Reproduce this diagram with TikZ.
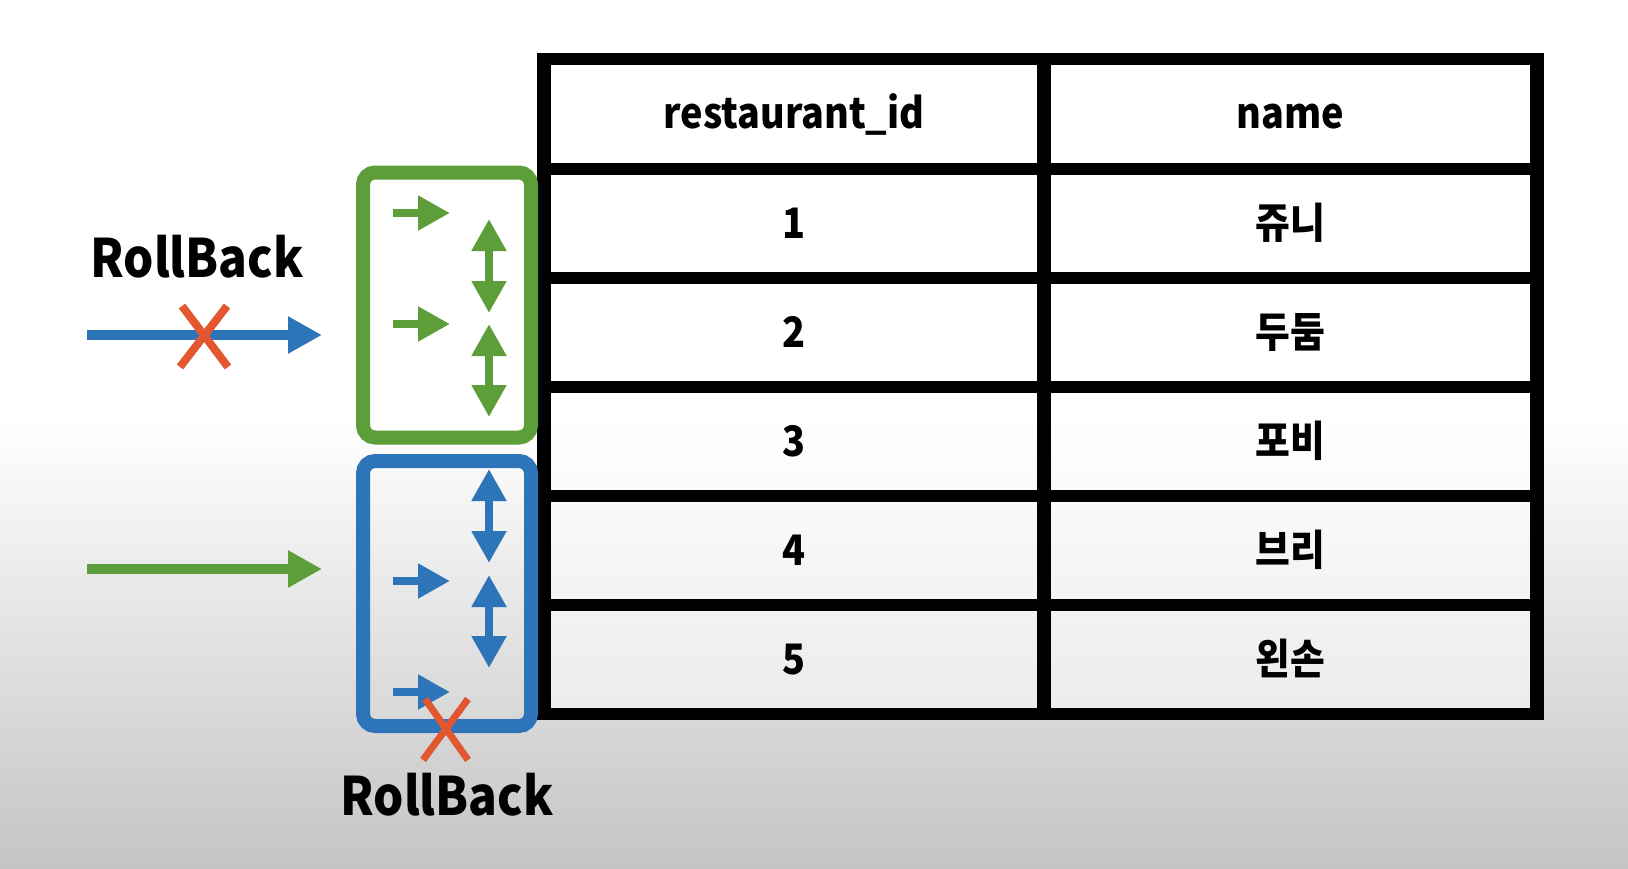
\documentclass[tikz,border=0pt]{standalone}
\usepackage{fontspec}
\setmainfont{Noto Sans CJK KR}[FakeStretch=0.9]
\usetikzlibrary{arrows.meta}
\definecolor{gcol}{RGB}{93,158,58}
\definecolor{bcol}{RGB}{46,116,184}
\definecolor{xred}{RGB}{226,87,48}
\definecolor{bgbot}{RGB}{196,196,196}
\begin{document}
\begin{tikzpicture}[x=1pt,y=-1pt,
  tabtxt/.style={inner sep=0pt,anchor=base,font=\fontsize{42}{50}\selectfont\bfseries},
  rbtxt/.style={inner sep=0pt,anchor=base,font=\fontsize{53}{60}\selectfont\bfseries},
  frame/.style={line width=14pt,rounded corners=12pt,minimum width=168pt,minimum height=265pt,inner sep=0pt},
  smallarr/.style={line width=8.5pt,-{Triangle[width=33pt,length=32pt]}},
  dblarr/.style={line width=8.5pt,{Triangle[width=33pt,length=32pt]}-{Triangle[width=33pt,length=32pt]}},
  bigarr/.style={line width=10pt,-{Triangle[width=35pt,length=34pt]}},
  xline/.style={draw=xred,line width=8pt},
  hline/.style={line width=12pt},
  vline/.style={line width=14pt}]
\useasboundingbox (0,0) rectangle (1628,868);
\fill[white] (0,0) rectangle (1628,421);
\shade[top color=white,bottom color=bgbot] (0,420) rectangle (1628,868);

% table
\fill[white,opacity=0.5] (544,59) rectangle (1537,714);
\foreach \yy in {59,168.5,277.5,386.5,495.5,604.5,713.5}
  \draw[hline] (537,\yy) -- (1544,\yy);
\foreach \xx in {544,1044,1537}
  \draw[vline] (\xx,53) -- (\xx,720);

\node[tabtxt] (h1) at (794,128.5) {restaurant\_id};
\node[tabtxt] (h2) at (1290,128.5) {name};
\node[tabtxt] (id1) at (794,238) {1};
\node[tabtxt] (id2) at (794,347) {2};
\node[tabtxt] (id3) at (794,456) {3};
\node[tabtxt] (id4) at (794,565) {4};
\node[tabtxt] (id5) at (794,674) {5};
\node[tabtxt] (n1) at (1290,238) {쥬니};
\node[tabtxt] (n2) at (1290,347) {두둠};
\node[tabtxt] (n3) at (1290,456) {포비};
\node[tabtxt] (n4) at (1290,565) {브리};
\node[tabtxt] (n5) at (1290,674) {왼손};

% frames
\node[frame,draw=gcol] (gframe) at (447,305) {};
\node[frame,draw=bcol] (bframe) at (447,593.5) {};

% green frame arrows
\coordinate (ga1s) at (393,213); \coordinate (ga1e) at (450,213);
\coordinate (ga2s) at (393,324); \coordinate (ga2e) at (450,324);
\coordinate (gv1a) at (489,219); \coordinate (gv1b) at (489,313);
\coordinate (gv2a) at (489,324); \coordinate (gv2b) at (489,417);
\draw[smallarr,gcol] (ga1s) -- (ga1e);
\draw[smallarr,gcol] (ga2s) -- (ga2e);
\draw[dblarr,gcol] (gv1a) -- (gv1b);
\draw[dblarr,gcol] (gv2a) -- (gv2b);

% blue frame arrows
\coordinate (ba1s) at (393,581); \coordinate (ba1e) at (450,581);
\coordinate (ba2s) at (393,692); \coordinate (ba2e) at (450,692);
\coordinate (bv1a) at (489,469); \coordinate (bv1b) at (489,563);
\coordinate (bv2a) at (489,575); \coordinate (bv2b) at (489,668);
\draw[smallarr,bcol] (ba1s) -- (ba1e);
\draw[smallarr,bcol] (ba2s) -- (ba2e);
\draw[dblarr,bcol] (bv1a) -- (bv1b);
\draw[dblarr,bcol] (bv2a) -- (bv2b);

% left arrows
\coordinate (la1s) at (87,335); \coordinate (la1e) at (322,335);
\coordinate (la2s) at (87,569); \coordinate (la2e) at (322,569);
\draw[bigarr,bcol] (la1s) -- (la1e);
\draw[bigarr,gcol] (la2s) -- (la2e);

% red crosses
\coordinate (x1a) at (182,306); \coordinate (x1b) at (228,367);
\coordinate (x1c) at (227,306); \coordinate (x1d) at (180,367);
\draw[xline] (x1a) -- (x1b);
\draw[xline] (x1c) -- (x1d);
\coordinate (x2a) at (425,699); \coordinate (x2b) at (468,760);
\coordinate (x2c) at (468,699); \coordinate (x2d) at (423,760);
\draw[xline,line width=7pt] (x2a) -- (x2b);
\draw[xline,line width=7pt] (x2c) -- (x2d);

% labels
\node[rbtxt] (rb1) at (197,277) {RollBack};
\node[rbtxt] (rb2) at (447,815) {RollBack};
\end{tikzpicture}
\end{document}
